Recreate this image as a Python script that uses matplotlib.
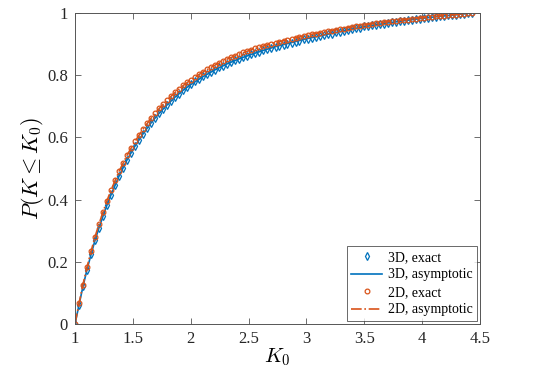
"""
CDF of K: exact vs asymptotic, 2D and 3D cases.
Output: out.png (538x372)
"""
import matplotlib
matplotlib.use("Agg")
import matplotlib.pyplot as plt
from matplotlib.ticker import FormatStrFormatter

# grid of K0 values used for the exact markers
K0 = [1.000, 1.035, 1.069, 1.104, 1.139, 1.173, 1.208, 1.243, 1.277, 1.312,
      1.347, 1.381, 1.416, 1.450, 1.485, 1.520, 1.554, 1.589, 1.624, 1.658,
      1.693, 1.728, 1.762, 1.797, 1.832, 1.866, 1.901, 1.936, 1.970, 2.005,
      2.040, 2.074, 2.109, 2.143, 2.178, 2.213, 2.247, 2.282, 2.317, 2.351,
      2.386, 2.421, 2.455, 2.490, 2.525, 2.559, 2.594, 2.629, 2.663, 2.698,
      2.733, 2.767, 2.802, 2.836, 2.871, 2.906, 2.940, 2.975, 3.010, 3.044,
      3.079, 3.114, 3.148, 3.183, 3.218, 3.252, 3.287, 3.322, 3.356, 3.391,
      3.426, 3.460, 3.495, 3.529, 3.564, 3.599, 3.633, 3.668, 3.703, 3.737,
      3.772, 3.807, 3.841, 3.876, 3.911, 3.945, 3.980, 4.015, 4.049, 4.084,
      4.119, 4.153, 4.188, 4.222, 4.257, 4.292, 4.326, 4.361, 4.396, 4.430]

cdf_3d_exact = [0.000, 0.062, 0.121, 0.175, 0.224, 0.269, 0.310, 0.348, 0.383, 0.416,
                0.447, 0.476, 0.503, 0.528, 0.551, 0.573, 0.593, 0.612, 0.630, 0.647,
                0.663, 0.678, 0.692, 0.705, 0.718, 0.730, 0.741, 0.752, 0.762, 0.771,
                0.780, 0.788, 0.796, 0.804, 0.811, 0.818, 0.825, 0.831, 0.837, 0.843,
                0.848, 0.853, 0.858, 0.863, 0.867, 0.871, 0.876, 0.880, 0.884, 0.887,
                0.892, 0.895, 0.898, 0.901, 0.905, 0.908, 0.911, 0.915, 0.918, 0.920,
                0.924, 0.926, 0.929, 0.932, 0.934, 0.938, 0.940, 0.942, 0.946, 0.948,
                0.951, 0.953, 0.957, 0.958, 0.960, 0.963, 0.964, 0.966, 0.968, 0.970,
                0.972, 0.973, 0.975, 0.976, 0.979, 0.980, 0.982, 0.983, 0.984, 0.986,
                0.988, 0.989, 0.990, 0.992, 0.993, 0.994, 0.996, 0.998, 0.999, 1.000]

cdf_2d_exact = [0.000, 0.066, 0.127, 0.183, 0.234, 0.280, 0.322, 0.361, 0.397, 0.431,
                0.462, 0.491, 0.518, 0.543, 0.566, 0.588, 0.608, 0.627, 0.645, 0.662,
                0.678, 0.693, 0.707, 0.720, 0.733, 0.745, 0.756, 0.767, 0.777, 0.786,
                0.795, 0.803, 0.811, 0.819, 0.826, 0.833, 0.840, 0.846, 0.852, 0.858,
                0.863, 0.868, 0.873, 0.878, 0.882, 0.886, 0.890, 0.894, 0.898, 0.901,
                0.905, 0.908, 0.911, 0.914, 0.917, 0.920, 0.923, 0.926, 0.929, 0.931,
                0.934, 0.936, 0.939, 0.941, 0.943, 0.946, 0.948, 0.950, 0.953, 0.955,
                0.957, 0.959, 0.962, 0.963, 0.965, 0.967, 0.968, 0.970, 0.972, 0.973,
                0.975, 0.976, 0.978, 0.979, 0.981, 0.982, 0.984, 0.985, 0.986, 0.988,
                0.989, 0.990, 0.991, 0.993, 0.994, 0.995, 0.996, 0.998, 0.999, 1.000]

# asymptotic curves, coarser grid
K0_asym = [1.000, 1.035, 1.069, 1.104, 1.139, 1.173, 1.208, 1.243, 1.277, 1.312,
           1.381, 1.450, 1.520, 1.589, 1.658, 1.728, 1.797, 1.866, 1.936, 2.005,
           2.109, 2.213, 2.317, 2.421, 2.525, 2.629, 2.733, 2.871, 3.010, 3.148,
           3.287, 3.426, 3.564, 3.703, 3.841, 3.980, 4.119, 4.257, 4.396, 4.430]
cdf_3d_asym = [0.000, 0.062, 0.121, 0.175, 0.224, 0.269, 0.310, 0.348, 0.383, 0.416,
               0.476, 0.528, 0.573, 0.612, 0.647, 0.678, 0.705, 0.730, 0.752, 0.771,
               0.796, 0.818, 0.837, 0.853, 0.867, 0.880, 0.892, 0.905, 0.918, 0.929,
               0.940, 0.951, 0.960, 0.968, 0.975, 0.982, 0.988, 0.993, 0.999, 1.000]
cdf_2d_asym = [0.000, 0.066, 0.127, 0.183, 0.234, 0.280, 0.322, 0.361, 0.397, 0.431,
               0.491, 0.543, 0.588, 0.627, 0.662, 0.693, 0.720, 0.745, 0.767, 0.786,
               0.811, 0.833, 0.852, 0.868, 0.882, 0.894, 0.905, 0.917, 0.929, 0.939,
               0.948, 0.957, 0.965, 0.972, 0.978, 0.984, 0.989, 0.994, 0.999, 1.000]

x_ticks = [1, 1.5, 2, 2.5, 3, 3.5, 4, 4.5]
y_ticks = [0, 0.2, 0.4, 0.6, 0.8, 1]

BLUE = "#0072BD"
ORANGE = "#D95319"

plt.rcParams["font.family"] = ["Liberation Serif", "DejaVu Serif"]
plt.rcParams["mathtext.fontset"] = "cm"

fig = plt.figure(figsize=(5.38, 3.72), dpi=100)
ax = fig.add_axes([75 / 538, 48 / 372, 405 / 538, 311 / 372])

ax.plot(K0, cdf_3d_exact, "d", color=BLUE, mfc="none", ms=3.6, mew=0.9,
        label="3D, exact")
ax.plot(K0_asym, cdf_3d_asym, "-", color=BLUE, lw=1.2, label="3D, asymptotic")
ax.plot(K0, cdf_2d_exact, "o", color=ORANGE, mfc="none", ms=3.4, mew=0.9,
        label="2D, exact")
ax.plot(K0_asym, cdf_2d_asym, "-.", color=ORANGE, lw=1.2, label="2D, asymptotic")

ax.set_xlim(1, 4.5)
ax.set_ylim(0, 1)
ax.set_xticks(x_ticks)
ax.set_yticks(y_ticks)
ax.xaxis.set_major_formatter(FormatStrFormatter("%g"))
ax.yaxis.set_major_formatter(FormatStrFormatter("%g"))
ax.tick_params(direction="in", top=True, right=True, length=4, width=0.6,
               color="#555555", labelsize=12, labelcolor="#262626", pad=5)
for s in ax.spines.values():
    s.set_color("#555555")
    s.set_linewidth(0.7)

ax.set_xlabel(r"$K_0$", fontsize=15, labelpad=0)
ax.set_ylabel(r"$P(K \leq K_0)$", fontsize=16, labelpad=1)

leg = ax.legend(loc="lower right", fontsize=10, frameon=True, fancybox=False,
                edgecolor="#262626", handlelength=2.2, handletextpad=0.4,
                borderpad=0.35, labelspacing=0.32, borderaxespad=0.2)
leg.get_frame().set_linewidth(0.6)

fig.savefig("out.png", dpi=100)
